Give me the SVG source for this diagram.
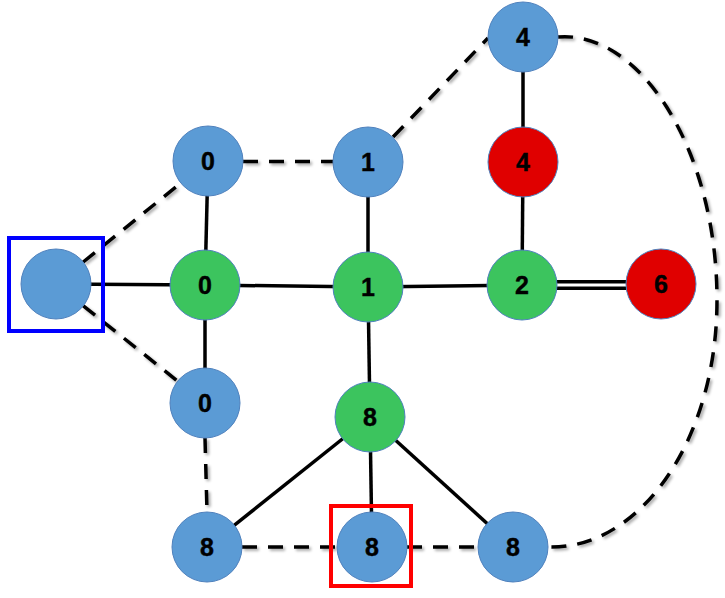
<svg xmlns="http://www.w3.org/2000/svg" width="725" height="598" viewBox="0 0 725 598">
<style>
.s{stroke:#000;stroke-width:3.5;fill:none}
.d{stroke:#000;stroke-width:3.5;fill:none;stroke-dasharray:15 11}
.n{stroke:#4F81BD;stroke-width:1}
.b{fill:#5B9BD5}
.g{fill:#3CC45E}
.r{fill:#E00000}
text{font-family:"Liberation Sans",Arial,sans-serif;font-weight:bold;font-size:25px;fill:#000;stroke:#000;stroke-width:0.4;text-anchor:middle}
</style>
<defs>
<filter id="sh" x="-10%" y="-10%" width="130%" height="130%">
<feGaussianBlur in="SourceAlpha" stdDeviation="1.5" result="bl"/>
<feOffset dx="2" dy="2" result="of"/>
<feComponentTransfer in="of" result="sf"><feFuncA type="linear" slope="0.35"/></feComponentTransfer>
<feMerge><feMergeNode in="sf"/><feMergeNode in="SourceGraphic"/></feMerge>
</filter>
</defs>
<rect width="725" height="598" fill="#fff"/>
<g id="connectors">
<line class="s" x1="56" y1="284" x2="205" y2="285"/>
<line class="s" x1="208" y1="161" x2="205" y2="285"/>
<line class="s" x1="205" y1="285" x2="205" y2="403"/>
<line class="s" x1="205" y1="285" x2="368" y2="287"/>
<line class="s" x1="368" y1="162" x2="368" y2="287"/>
<line class="s" x1="368" y1="287" x2="522" y2="285"/>
<line class="s" x1="368" y1="287" x2="370" y2="417"/>
<line class="s" x1="523" y1="37" x2="523" y2="162"/>
<line class="s" x1="523" y1="162" x2="522" y2="285"/>
<line stroke="#000" stroke-width="10" x1="540" y1="285" x2="640" y2="285"/>
<line stroke="#fff" stroke-width="3" x1="540" y1="285" x2="640" y2="285"/>
<line class="s" x1="370" y1="417" x2="207" y2="547"/>
<line class="s" x1="370" y1="417" x2="372" y2="547"/>
<line class="s" x1="370" y1="417" x2="513" y2="547"/>
<g filter="url(#sh)">
<line class="d" x1="83.2" y1="262" x2="180.8" y2="183"/>
<line class="d" x1="83.3" y1="305.8" x2="177.7" y2="381.2"/>
<line class="d" x1="243" y1="161.5" x2="333" y2="161.5"/>
<line class="d" x1="393" y1="137" x2="488" y2="38"/>
<line class="d" x1="205" y1="438" x2="207" y2="512"/>
<line class="d" x1="242" y1="547" x2="337" y2="547"/>
<line class="d" x1="407" y1="547" x2="478" y2="547"/>
<path class="d" d="M558,37 C640,30 717,150 717,300 C717,440 640,550 548,547"/>
</g>
</g>
<g id="node-left"><circle class="n b" cx="56" cy="284" r="35"/></g>
<g id="node-t0"><circle class="n b" cx="208" cy="161" r="35"/><text x="208" y="170">0</text></g>
<g id="node-t1"><circle class="n b" cx="368" cy="162" r="35"/><text x="368" y="171">1</text></g>
<g id="node-t4"><circle class="n b" cx="523" cy="37" r="35"/><text x="523" y="46">4</text></g>
<g id="node-r4"><circle class="n r" cx="523" cy="162" r="35"/><text x="523" y="171">4</text></g>
<g id="node-g0"><circle class="n g" cx="205" cy="285" r="35"/><text x="205" y="294">0</text></g>
<g id="node-g1"><circle class="n g" cx="368" cy="287" r="35"/><text x="368" y="296">1</text></g>
<g id="node-g2"><circle class="n g" cx="522" cy="285" r="35"/><text x="522" y="294">2</text></g>
<g id="node-r6"><circle class="n r" cx="661" cy="284" r="35"/><text x="661" y="293">6</text></g>
<g id="node-b0"><circle class="n b" cx="205" cy="403" r="35"/><text x="205" y="412">0</text></g>
<g id="node-g8"><circle class="n g" cx="370" cy="417" r="35"/><text x="370" y="426">8</text></g>
<g id="node-b8l"><circle class="n b" cx="207" cy="547" r="35"/><text x="207" y="556">8</text></g>
<g id="node-b8m"><circle class="n b" cx="372" cy="547" r="35"/><text x="372" y="556">8</text></g>
<g id="node-b8r"><circle class="n b" cx="513" cy="547" r="35"/><text x="513" y="556">8</text></g>
<g id="highlight-blue"><rect x="9" y="238" width="94" height="93" fill="none" stroke="#0000FF" stroke-width="4"/></g>
<g id="highlight-red"><rect x="331" y="506" width="80" height="80" fill="none" stroke="#FF0000" stroke-width="4"/></g>
</svg>
